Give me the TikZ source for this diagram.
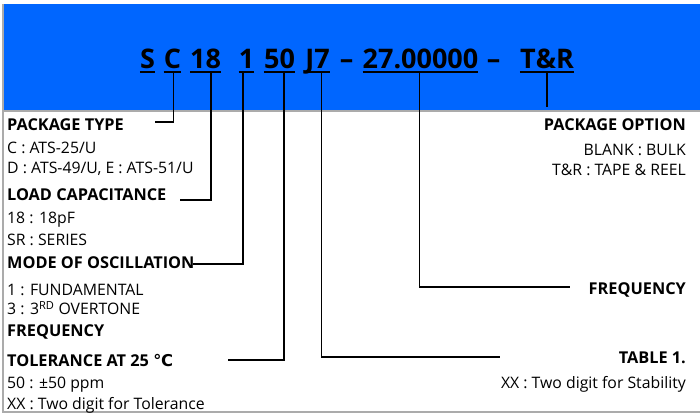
\documentclass[tikz,border=0pt]{standalone}
\usepackage{fontspec}
\setmainfont{Open Sans}
\newfontfamily\degfont{DejaVu Sans}
\definecolor{Band}{HTML}{0066FF}
\definecolor{Rim}{HTML}{ABABAB}
\tikzset{
  every node/.append style={inner sep=0pt, text=black, font=\fontsize{15.8}{18}\selectfont},
  code/.style={font=\fontsize{27}{30}\selectfont\bfseries, anchor=base},
  head/.style={font=\fontsize{16.3}{18}\selectfont\bfseries, anchor=base west},
  item/.style={anchor=base west},
  headr/.style={head, anchor=base east},
  itemr/.style={anchor=base east},
  uline/.style={line width=1.6pt},
  lead/.style={line width=1.5pt},
}
\begin{document}
\begin{tikzpicture}[x=1pt, y=-1pt]
  \useasboundingbox (0,0) rectangle (700,415);
  % frame and band
  \fill[Band] (3,4) rectangle (700,110);
  \draw[Rim, line width=2pt] (3,110.5) -- (700,110.5);
  \draw[Rim, line width=2pt] (2.5,4) -- (2.5,412) -- (700,412);

  % part number
  \node[code] (tS) at (147.5,68.3) {S};
  \node[code] (tC) at (172.5,68.3) {C};
  \node[code] (t18) at (205.5,68.3) {18};
  \node[code] (t1) at (246.5,68.3) {1};
  \node[code] (t50) at (279.5,68.3) {50};
  \node[code] (tJ7) at (317.5,68.3) {J7};
  \node[code] (dA) at (346.5,68.3) {--};
  \node[code] (tFreq) at (420.5,68.3) {27.00000};
  \node[code] (dB) at (493.5,68.3) {--};
  \node[code] (tTR) at (547,68.3) {T\&R};
  \foreach \t in {tS,tC,t18,t1,t50,tJ7,tFreq,tTR}
    \draw[uline] ([yshift=-3.6pt]\t.base west) -- ([yshift=-3.6pt]\t.base east);

  % left column
  \node[head] (ptype) at (7,130.7) {PACKAGE TYPE};
  \node[item] (ptypeA) at (7,153.3) {C : ATS-25/U};
  \node[item] (ptypeB) at (7,173.3) {D : ATS-49/U, E : ATS-51/U};
  \node[head] (lcap) at (7,200.7) {LOAD CAPACITANCE};
  \node[item] (lcapA) at (7,223.3) {18 : 18pF};
  \node[item] (lcapB) at (7,245) {SR : SERIES};
  \node[head] (mode) at (7,268.3) {MODE OF OSCILLATION};
  \node[item] (modeA) at (7,295) {1 : FUNDAMENTAL};
  \node[item] (modeB) at (7,314.3) {3 : 3\textsuperscript{RD} OVERTONE};
  \node[head] (tolA) at (7,336.7) {FREQUENCY};
  \node[head] (tol) at (7,366) {TOLERANCE AT 25 {\degfont\bfseries ℃}};
  \node[item] (tolB) at (7,388.3) {50 : ±50 ppm};
  \node[item] (tolC) at (7,409.3) {XX : Two digit for Tolerance};

  % right column
  \node[headr] (popt) at (686,130.7) {PACKAGE OPTION};
  \node[itemr] (poptA) at (686,155) {BLANK : BULK};
  \node[itemr] (poptB) at (686,175) {T\&R : TAPE \& REEL};
  \node[headr] (freq) at (686,294) {FREQUENCY};
  \node[headr] (tab) at (686,363) {TABLE 1.};
  \node[itemr] (tabA) at (686,388) {XX : Two digit for Stability};

  % leader ends
  \coordinate (eType) at (155,122);
  \coordinate (eLoad) at (180,200);
  \coordinate (eMode) at (193,264);
  \coordinate (eTol) at (228,360);
  \coordinate (eTab) at (500,357);
  \coordinate (eFreq) at (570,287);
  \coordinate (eOpt) at (547,107);

  \draw[lead] ([xshift=0.8pt,yshift=-4.2pt]tC.base) |- (eType);
  \draw[lead] ([xshift=5.5pt,yshift=-4.2pt]t18.base) |- (eLoad);
  \draw[lead] ([xshift=-3.5pt,yshift=-4.2pt]t1.base) |- (eMode);
  \draw[lead] ([xshift=4.5pt,yshift=-4.2pt]t50.base) |- (eTol);
  \draw[lead] ([xshift=4pt,yshift=-4.2pt]tJ7.base) |- (eTab);
  \draw[lead] ([xshift=-1pt,yshift=-4.2pt]tFreq.base) |- (eFreq);
  \draw[lead] ([yshift=-4.2pt]tTR.base) |- (eOpt);
\end{tikzpicture}
\end{document}
